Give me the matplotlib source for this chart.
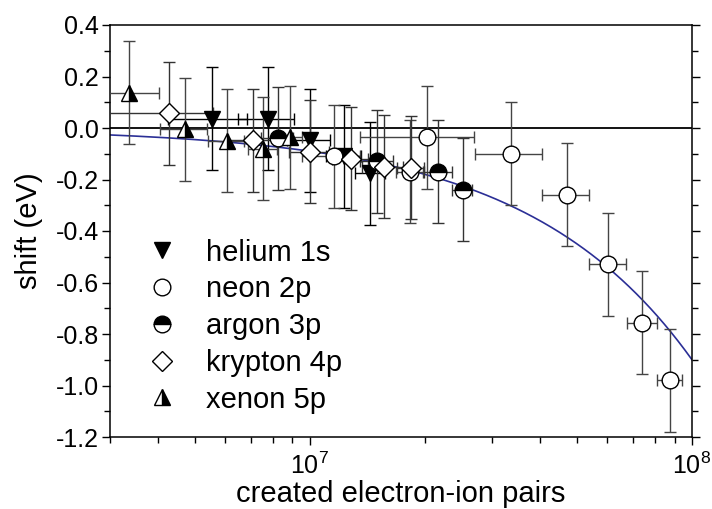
import numpy as np
import matplotlib
matplotlib.use("Agg")
import matplotlib.pyplot as plt
from matplotlib.ticker import LogLocator, FixedLocator, FixedFormatter, NullFormatter, MultipleLocator

plt.rcParams['font.family'] = ['Liberation Sans', 'DejaVu Sans']
plt.rcParams['mathtext.default'] = 'regular'
plt.rcParams['axes.unicode_minus'] = False

# ---- data ----
helium_x = [5.55e6, 7.77e6, 1.0e7, 1.23e7, 1.44e7]
helium_y = [0.035, 0.035, -0.047, -0.11, -0.175]
helium_xerr = [1.3e6, 1.3e6, 1.3e6, 1.3e6, 1.3e6]
helium_yerr = [0.2, 0.2, 0.2, 0.2, 0.2]

neon_x = [1.155e7, 1.83e7, 2.02e7, 3.37e7, 4.72e7, 6.04e7, 7.42e7, 8.76e7]
neon_y = [-0.11, -0.17, -0.035, -0.10, -0.26, -0.53, -0.757, -0.979]
neon_xerr = [2.0e6, 1.5e6, 6.7e6, 6.7e6, 6.7e6, 6.7e6, 6.7e6, 6.7e6]
neon_yerr = [0.2, 0.2, 0.2, 0.2, 0.2, 0.2, 0.2, 0.2]

argon_x = [8.25e6, 1.5e7, 2.17e7, 2.51e7]
argon_y = [-0.04, -0.13, -0.17, -0.24]
argon_xerr = [0.8e6, 1.5e6, 1.8e6, 1.5e6]
argon_yerr = [0.2, 0.2, 0.2, 0.2]

krypton_x = [4.29e6, 7.1e6, 1.0e7, 1.28e7, 1.56e7, 1.84e7]
krypton_y = [0.058, -0.047, -0.093, -0.12, -0.15, -0.155]
krypton_xerr = [1.3e6, 1.0e6, 1.2e6, 1.4e6, 1.9e6, 1.5e6]
krypton_yerr = [0.2, 0.2, 0.2, 0.2, 0.2, 0.2]

xenon_x = [3.37e6, 4.72e6, 6.07e6, 7.54e6, 8.87e6]
xenon_y = [0.136, -0.005, -0.05, -0.08, -0.035]
xenon_xerr = [0.67e6, 0.67e6, 0.67e6, 0.67e6, 0.67e6]
xenon_yerr = [0.2, 0.2, 0.2, 0.2, 0.2]

labels = ["helium 1s", "neon 2p", "argon 3p", "krypton 4p", "xenon 5p"]

# linear fit: shift = slope * N
fit_slope = -9.0e-9
fit_range = [3e6, 1e8]

xlim = (3e6, 1e8)
ylim = (-1.2, 0.4)

# ---- figure ----
fig = plt.figure(figsize=(7.12, 5.09), dpi=100)
ax = fig.add_axes([110/712, 1-437/509, (692-110)/712, (437-25)/509])

ax.axhline(0, color='black', lw=1.3, zorder=1)

fx = np.linspace(fit_range[0], fit_range[1], 400)
ax.plot(fx, fit_slope*fx, color='#2b2f96', lw=1.2, zorder=2)

series = [
    (helium_x, helium_y, helium_xerr, helium_yerr, dict(marker='v', mfc='black', mec='black'), 'black'),
    (neon_x, neon_y, neon_xerr, neon_yerr, dict(marker='o', mfc='white', mec='black'), '#444444'),
    (argon_x, argon_y, argon_xerr, argon_yerr, dict(marker='o', mfc='black', mec='black', fillstyle='top', markerfacecoloralt='white'), '#333333'),
    (krypton_x, krypton_y, krypton_xerr, krypton_yerr, dict(marker='D', mfc='white', mec='black'), '#333333'),
    (xenon_x, xenon_y, xenon_xerr, xenon_yerr, dict(marker='^', mfc='black', mec='black', fillstyle='right', markerfacecoloralt='white'), '#444444'),
]
sizes = [12, 12, 12, 10, 12]

for (x, y, xe, ye, mk, ecol), lab, ms in zip(series, labels, sizes):
    ax.errorbar(x, y, xerr=xe, yerr=ye, fmt='none', ecolor=ecol, elinewidth=1.0,
                capsize=4, capthick=1.0, zorder=3)
    ax.plot(x, y, linestyle='none', ms=ms, mew=1.0, label=lab, zorder=4, **mk)

ax.set_xscale('log')
ax.set_xlim(*xlim)
ax.set_ylim(*ylim)

ax.xaxis.set_major_locator(FixedLocator([1e7, 1e8]))
ax.xaxis.set_major_formatter(FixedFormatter(['$10^{7}$', '$10^{8}$']))
ax.xaxis.set_minor_locator(LogLocator(base=10, subs=np.arange(2, 10)))
ax.xaxis.set_minor_formatter(NullFormatter())

ax.yaxis.set_major_locator(MultipleLocator(0.2))
ax.yaxis.set_minor_locator(MultipleLocator(0.1))
ax.yaxis.set_major_formatter(matplotlib.ticker.FormatStrFormatter('%.1f'))

ax.tick_params(axis='both', which='major', direction='out', length=6, width=1.0, labelsize=18)
ax.tick_params(axis='both', which='minor', direction='out', length=4, width=1.0)
ax.tick_params(axis='y', which='both', right=True, labelright=False)
ax.tick_params(axis='y', which='major', pad=2)
ax.tick_params(axis='x', which='major', pad=5)

for s in ax.spines.values():
    s.set_linewidth(1.1)

ax.set_xlabel('created electron-ion pairs', fontsize=21, labelpad=1)
ax.set_ylabel('shift (eV)', fontsize=21, labelpad=9)

leg = ax.legend(loc='upper left', bbox_to_anchor=(0.045, 0.51), frameon=False,
                fontsize=21, handlelength=1.0, handletextpad=1.0, labelspacing=0.3,
                borderaxespad=0)

fig.savefig('out.png', dpi=100)
